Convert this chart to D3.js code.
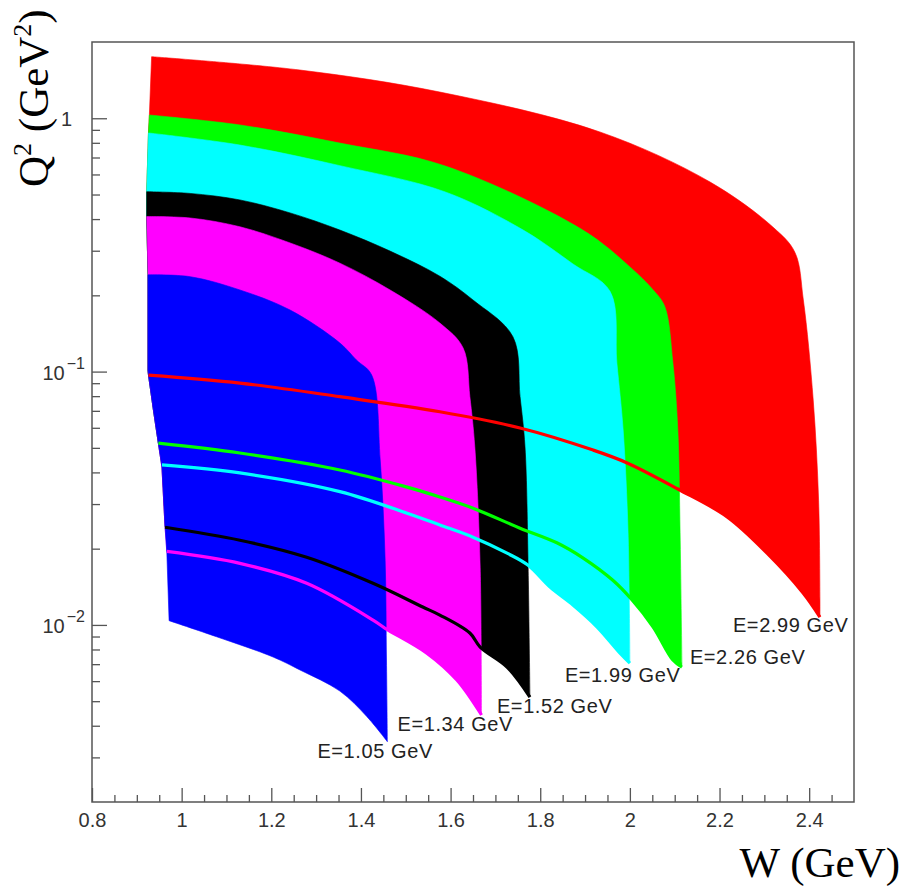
<!DOCTYPE html>
<html>
<head>
<meta charset="utf-8">
<script src="https://cdn.jsdelivr.net/npm/d3@7"></script>
<style>
  body { margin: 0; background: #fff; }
</style>
</head>
<body>
<svg id="chart" width="905" height="886"></svg>
<script>
// beam energies (GeV), the bands are drawn largest first
var energies = [2.99, 2.26, 1.99, 1.52, 1.34, 1.05];
var bandColors = ["#ff0000", "#00ff00", "#00ffff", "#000000", "#ff00ff", "#0000ff"];

// [W, Q2] points. upper: top-left corner -> knee -> down the right side to the tip
// lower: left end -> tip
var e299Upper = [[0.933,1.75],[1.264,1.55],[1.576,1.269],[1.933,0.883],[2.179,0.560],[2.319,0.372],[2.368,0.296],[2.387,0.1917],[2.409,0.0772],[2.421,0.0311],[2.424,0.01254],[2.424,0.01074]];
var e299Lower = [[0.926,0.0969],[1.130,0.0901],[1.353,0.0796],[1.576,0.0694],[1.755,0.0599],[1.918,0.0490],[1.994,0.0436],[2.107,0.0344],[2.217,0.0267],[2.306,0.0192],[2.386,0.0134],[2.424,0.01074]];

var e226Upper = [[0.928,1.03],[1.130,0.941],[1.353,0.798],[1.588,0.648],[1.895,0.362],[2.000,0.259],[2.052,0.210],[2.078,0.1804],[2.096,0.1081],[2.107,0.0588],[2.112,0.0231],[2.116,0.00707],[2.116,0.00682]];
var e226Lower = [[0.948,0.0522],[1.130,0.0477],[1.353,0.0409],[1.503,0.0350],[1.576,0.0320],[1.650,0.0289],[1.755,0.0241],[1.837,0.0211],[1.895,0.0184],[1.962,0.0150],[2.005,0.01254],[2.052,0.00981],[2.096,0.00727],[2.116,0.00682]];

var e199Upper = [[0.926,0.875],[1.130,0.784],[1.353,0.650],[1.588,0.512],[1.762,0.362],[1.873,0.266],[1.956,0.207],[1.971,0.1081],[1.985,0.0588],[1.996,0.0231],[2.000,0.00707]];
var e199Lower = [[0.956,0.0428],[1.130,0.0398],[1.353,0.0336],[1.503,0.0276],[1.576,0.0248],[1.650,0.0222],[1.726,0.0192],[1.773,0.0172],[1.822,0.0141],[1.873,0.01198],[1.927,0.00981],[1.978,0.00774],[2.000,0.00707]];

var e152Upper = [[0.922,0.513],[1.019,0.505],[1.130,0.476],[1.242,0.423],[1.353,0.362],[1.465,0.299],[1.576,0.238],[1.650,0.1917],[1.739,0.1373],[1.755,0.0796],[1.766,0.0505],[1.773,0.0169],[1.777,0.00519]];
var e152Lower = [[0.963,0.0243],[1.130,0.0216],[1.279,0.0185],[1.427,0.0146],[1.538,0.01177],[1.576,0.01094],[1.643,0.00929],[1.666,0.00818],[1.726,0.00682],[1.777,0.00519]];

var e134Upper = [[0.922,0.409],[1.019,0.404],[1.130,0.373],[1.242,0.322],[1.353,0.268],[1.465,0.210],[1.576,0.1555],[1.628,0.1239],[1.643,0.0796],[1.654,0.0505],[1.666,0.0169],[1.669,0.00441]];
var e134Lower = [[0.967,0.0195],[1.130,0.0175],[1.279,0.0146],[1.427,0.01045],[1.454,0.0097],[1.547,0.00774],[1.614,0.00606],[1.669,0.00441]];

var e105Upper = [[0.925,0.241],[1.019,0.237],[1.130,0.210],[1.242,0.1750],[1.353,0.1297],[1.390,0.1111],[1.424,0.0969],[1.443,0.0448],[1.454,0.0180],[1.457,0.00727],[1.459,0.00346]];
var e105Lower = [[0.972,0.01039],[1.078,0.00898],[1.204,0.00747],[1.264,0.00664],[1.353,0.00548],[1.413,0.00435],[1.459,0.00346]];

// common low-W edge of all bands, top -> bottom
var leftEdge = [[0.933,1.75],[0.928,1.03],[0.926,0.875],[0.922,0.513],[0.922,0.409],[0.925,0.241],[0.925,0.1014],[0.926,0.0969],[0.937,0.0705],[0.948,0.0522],[0.956,0.0420],[0.963,0.0243],[0.967,0.0192],[0.972,0.01039]];

var uppers = [e299Upper, e226Upper, e199Upper, e152Upper, e134Upper, e105Upper];
var lowers = [e299Lower, e226Lower, e199Lower, e152Lower, e134Lower, e105Lower];

var xTickLabels = [0.8, 1, 1.2, 1.4, 1.6, 1.8, 2, 2.2, 2.4];
var yMajorTicks = [1, 0.1, 0.01];
var yTickExp = ["", "-1", "-2"];

var svg = d3.select("#chart");
var fx0 = 92, fx1 = 854, fy0 = 42, fy1 = 802;   // frame

var x = d3.scaleLinear().domain([0.8, 2.5]).range([fx0, fx1]);
var y = d3.scaleLog().domain([0.002, 2]).range([fy1, fy0]);

svg.append("rect").attr("width", 905).attr("height", 886).attr("fill", "#fff");

var smooth = d3.line().curve(d3.curveCatmullRom.alpha(0.5))
    .x(function(d){ return x(d[0]); }).y(function(d){ return y(d[1]); });
var straight = d3.line()
    .x(function(d){ return x(d[0]); }).y(function(d){ return y(d[1]); });

function cont(path) { return "L" + path.slice(1); }

// filled bands
energies.forEach(function(e, i){
    var up = uppers[i], lo = lowers[i];
    var qTop = up[0][1], qBot = lo[0][1];
    var edge = leftEdge.filter(function(p){ return p[1] < qTop && p[1] > qBot; }).reverse();
    var d = smooth(up) + cont(smooth(lo.slice().reverse()));
    if (edge.length) d += cont(straight(edge));
    svg.append("path")
        .attr("d", d + "Z")
        .attr("fill", bandColors[i])
        .attr("stroke", bandColors[i])
        .attr("stroke-width", 0.6);
});

// lower edges drawn on top as lines
energies.forEach(function(e, i){
    if (i == energies.length - 1) return;
    svg.append("path")
        .attr("d", smooth(lowers[i]))
        .attr("fill", "none")
        .attr("stroke", bandColors[i])
        .attr("stroke-width", 3.2)
        .attr("stroke-linejoin", "round");
});

// energy labels, placed next to each band's tip
var labelOff = [[-87, 15], [8, -3], [-65, 19], [-33, 16], [-84, 16], [-70, 16]];
energies.forEach(function(e, i){
    var tip = uppers[i][uppers[i].length - 1];
    svg.append("text")
        .attr("x", x(tip[0]) + labelOff[i][0])
        .attr("y", y(tip[1]) + labelOff[i][1])
        .attr("font-family", "Liberation Sans, Arial, sans-serif")
        .attr("font-size", 20)
        .attr("letter-spacing", 0.6)
        .attr("fill", "#222")
        .text("E=" + e.toFixed(2) + " GeV");
});

// frame
svg.append("rect")
    .attr("x", fx0).attr("y", fy0)
    .attr("width", fx1 - fx0).attr("height", fy1 - fy0)
    .attr("fill", "none").attr("stroke", "#555").attr("stroke-width", 1.5);

// x axis
var xMinor = d3.range(0.85, 2.49, 0.05).filter(function(v){
    return Math.abs(v * 5 - Math.round(v * 5)) > 1e-6;
});
var gxMinor = svg.append("g").attr("transform", "translate(0," + fy1 + ")")
    .call(d3.axisBottom(x).tickValues(xMinor).tickSizeInner(-7).tickSizeOuter(0).tickFormat(""));
var gx = svg.append("g").attr("transform", "translate(0," + fy1 + ")")
    .call(d3.axisBottom(x).tickValues(xTickLabels).tickSizeInner(-14).tickSizeOuter(0).tickPadding(11)
        .tickFormat(function(d){ return String(+d.toFixed(1)); }));
[gx, gxMinor].forEach(function(g){
    g.select(".domain").remove();
    g.selectAll("line").attr("stroke", "#555").attr("stroke-width", 1.3);
});
gx.selectAll("text")
    .attr("font-family", "Liberation Sans, Arial, sans-serif")
    .attr("font-size", 20)
    .attr("fill", "#333");

// y axis
var yMinor = [];
[-3, -2, -1, 0].forEach(function(p){
    for (var k = 2; k <= 9; k++) {
        var v = k * Math.pow(10, p);
        if (v > 0.0021 && v < 1.99) yMinor.push(v);
    }
});
var gyMinor = svg.append("g").attr("transform", "translate(" + fx0 + ",0)")
    .call(d3.axisLeft(y).tickValues(yMinor).tickSizeInner(-8).tickSizeOuter(0).tickFormat(""));
var gy = svg.append("g").attr("transform", "translate(" + fx0 + ",0)")
    .call(d3.axisLeft(y).tickValues(yMajorTicks).tickSizeInner(-15).tickSizeOuter(0).tickFormat(""));
[gy, gyMinor].forEach(function(g){
    g.select(".domain").remove();
    g.selectAll("line").attr("stroke", "#555").attr("stroke-width", 1.3);
});

yMajorTicks.forEach(function(v, i){
    var t = svg.append("text")
        .attr("text-anchor", "end")
        .attr("x", yTickExp[i] ? 85 : 72)
        .attr("y", y(v) + 8)
        .attr("font-family", "Liberation Sans, Arial, sans-serif")
        .attr("font-size", 20)
        .attr("fill", "#333");
    if (yTickExp[i]) {
        t.append("tspan").text("10");
        t.append("tspan").attr("dy", -11).attr("font-size", 16).attr("dx", 2).text(yTickExp[i].replace("-", "\u2212"));
    } else {
        t.text("1");
    }
});

// axis titles
svg.append("text")
    .attr("x", 900).attr("y", 877)
    .attr("text-anchor", "end")
    .attr("font-family", "Liberation Serif, Times New Roman, serif")
    .attr("font-size", 43)
    .attr("fill", "#000")
    .text("W (GeV)");

var yt = svg.append("text")
    .attr("transform", "translate(48,187) rotate(-90)")
    .attr("font-family", "Liberation Serif, Times New Roman, serif")
    .attr("font-size", 43)
    .attr("fill", "#000");
yt.append("tspan").text("Q");
yt.append("tspan").attr("font-size", 26).attr("dy", -17).text("2");
yt.append("tspan").attr("dy", 17).text(" (GeV");
yt.append("tspan").attr("font-size", 26).attr("dy", -17).text("2");
yt.append("tspan").attr("dy", 17).text(")");
</script>
</body>
</html>
